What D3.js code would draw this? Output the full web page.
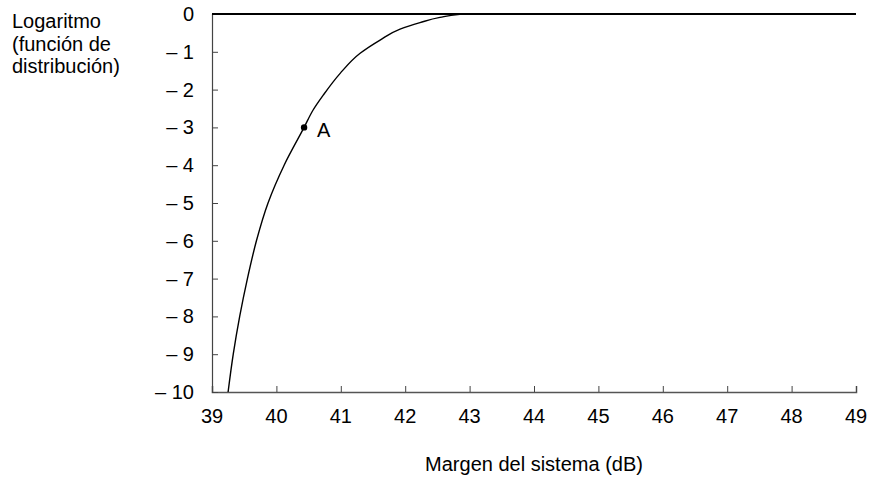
<!DOCTYPE html>
<html>
<head>
<meta charset="utf-8">
<script src="https://cdnjs.cloudflare.com/ajax/libs/d3/7.8.5/d3.min.js"></script>
<style>
body { margin: 0; background: #fff; }
svg { font-family: "Liberation Sans", Arial, sans-serif; }
</style>
</head>
<body>
<svg id="chart" width="872" height="482"></svg>
<script>
// curve: margin (dB) vs log of distribution function
var margin_dB = [39.25, 39.33, 39.43, 39.55, 39.69, 39.87, 40.12, 40.43, 40.57, 40.73, 40.99, 41.3, 41.61, 41.92, 42.23, 42.54, 42.85, 43.0];
var logF      = [-10, -9, -8, -7, -6, -5, -4, -3, -2.54, -2.14, -1.57, -1.04, -0.69, -0.4, -0.23, -0.09, -0.01, 0];
var xTicks = [39, 40, 41, 42, 43, 44, 45, 46, 47, 48, 49];
var yTicks = [0, -1, -2, -3, -4, -5, -6, -7, -8, -9, -10];
var pointA = {x: 40.43, y: -3, label: "A"};

var svg = d3.select("#chart");
var x = d3.scaleLinear().domain([39, 49]).range([212, 856]);
var y = d3.scaleLinear().domain([-10, 0]).range([392, 14]);

// axes, ticks inward
var xAxis = svg.append("g")
    .attr("transform", "translate(0," + y(-10) + ")")
    .call(d3.axisTop(x).tickValues(xTicks).tickSize(6).tickFormat(""));
xAxis.select(".domain").attr("stroke", "#555").attr("stroke-width", 1.5);
xAxis.selectAll(".tick line").attr("stroke", "#444");

var yAxis = svg.append("g")
    .attr("transform", "translate(" + x(39) + ",0)")
    .call(d3.axisRight(y).tickValues(yTicks).tickSize(6).tickFormat(""));
yAxis.select(".domain").attr("stroke", "#444").attr("stroke-width", 1.2);
yAxis.selectAll(".tick line").attr("stroke", "#444");

svg.append("g").selectAll("text")
    .data(xTicks).enter().append("text")
    .attr("x", function(d) { return x(d); })
    .attr("y", 423)
    .attr("text-anchor", "middle")
    .attr("font-size", 20)
    .text(function(d) { return d; });

svg.append("g").selectAll("text")
    .data(yTicks).enter().append("text")
    .attr("x", 194)
    .attr("y", function(d) { return y(d) + 7; })
    .attr("text-anchor", "end")
    .attr("font-size", 20)
    .text(function(d) { return d == 0 ? "0" : "\u2013 " + (-d); });

// zero line
svg.append("line")
    .attr("x1", x(39)).attr("x2", x(49))
    .attr("y1", y(0)).attr("y2", y(0))
    .attr("stroke", "#000").attr("stroke-width", 2);

var line = d3.line()
    .x(function(d, i) { return x(margin_dB[i]); })
    .y(function(d, i) { return y(logF[i]); })
    .curve(d3.curveMonotoneY);

svg.append("path")
    .datum(margin_dB)
    .attr("d", line)
    .attr("fill", "none")
    .attr("stroke", "#000")
    .attr("stroke-width", 1.4);

svg.append("circle")
    .attr("cx", x(pointA.x)).attr("cy", y(pointA.y))
    .attr("r", 3.2).attr("fill", "#000");
svg.append("text")
    .attr("x", x(pointA.x) + 13).attr("y", y(pointA.y) + 10)
    .attr("font-size", 20)
    .text(pointA.label);

// titles
var ttl = svg.append("text").attr("font-size", 20);
["Logaritmo", "(función de", "distribución)"].forEach(function(s, i) {
    ttl.append("tspan").attr("x", 12).attr("y", 28 + i * 22.5).text(s);
});
svg.append("text")
    .attr("x", x(44)).attr("y", 471)
    .attr("text-anchor", "middle")
    .attr("font-size", 20)
    .text("Margen del sistema (dB)");
</script>
</body>
</html>
